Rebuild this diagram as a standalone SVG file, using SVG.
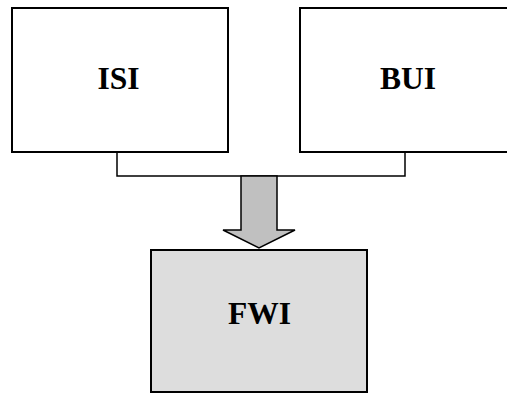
<svg xmlns="http://www.w3.org/2000/svg" width="507" height="394" viewBox="0 0 507 394">
  <style>
    .box { stroke: #000; stroke-width: 2; }
    .label { font-family: "Liberation Serif", "Times New Roman", serif; font-weight: bold; font-size: 31.5px; text-anchor: middle; fill: #000; }
    .link { fill: none; stroke: #000; stroke-width: 1.5; }
  </style>
  <rect width="507" height="394" fill="#fff"/>
  <g id="connectors">
    <polyline class="link" points="117,152 117,176 405,176 405,152"/>
    <polygon points="241,176 277,176 277,230 295,230 259,248 223,230 241,230" fill="#c0c0c0" stroke="#000" stroke-width="1.5"/>
  </g>
  <g id="isi">
    <rect class="box" x="12" y="8" width="216" height="144" fill="#fff"/>
    <text class="label" x="118.5" y="88.5">ISI</text>
  </g>
  <g id="bui">
    <rect class="box" x="300" y="8" width="230" height="144" fill="#fff"/>
    <text class="label" x="408" y="88.5">BUI</text>
  </g>
  <g id="fwi">
    <rect class="box" x="151" y="250" width="216" height="142" fill="#dddddd"/>
    <text class="label" x="259.5" y="323.5">FWI</text>
  </g>
</svg>
